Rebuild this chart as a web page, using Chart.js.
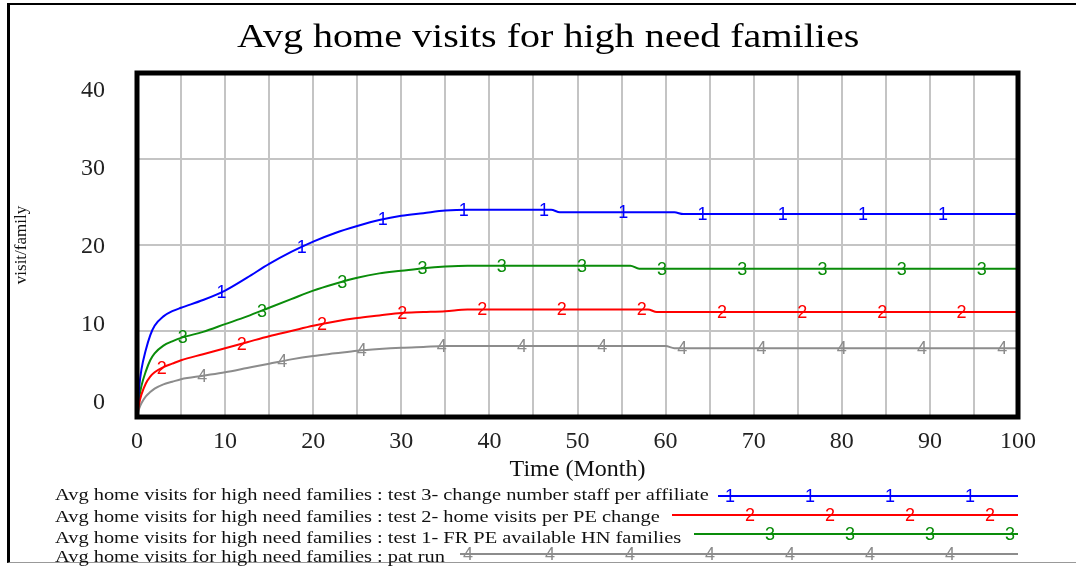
<!DOCTYPE html>
<html>
<head>
<meta charset="utf-8">
<script src="https://cdn.jsdelivr.net/npm/chart.js@4"></script>
<style>
  body { margin: 0; background: #fff; }
  #wrap { position: relative; width: 1076px; height: 566px; overflow: hidden; }
  #frame { position: absolute; left: 7px; top: 3px; width: 1069px; height: 560px;
           border-left: 3px solid #000; border-top: 2px solid #000; border-bottom: 1px solid #999; box-sizing: border-box; }
  canvas { position: absolute; left: 0; top: 0; }
  #title { position: absolute; left: 237px; top: 16px; font-family: 'Liberation Serif', serif; font-size: 33px; line-height: 40px;
           color: #000; white-space: nowrap; transform: scaleX(1.214); transform-origin: 0 0; }
  .row { position: absolute; left: 55px; font-family: 'Liberation Serif', serif; font-size: 16px; color: #111; white-space: nowrap;
         line-height: 18px; transform: scaleX(1.275); transform-origin: 0 0; }
  .sample { position: absolute; height: 0; border-top: 2px solid; }
  .sample span { position: absolute; top: -11px; font-family: 'Liberation Sans', sans-serif; font-size: 18px; line-height: 20px; transform: translateX(-50%); }
</style>
</head>
<body>
<div id="wrap">
  <div id="frame"></div>
  <canvas id="chart" width="1076" height="566"></canvas>
  <div id="title">Avg home visits for high need families</div>
  <div id="legend"></div>
</div>
<script>
const times = [0, 0.25, 0.5, 1, 1.5, 2, 3, 4, 5, 7.5, 10, 12.5, 15, 17.5, 20, 22.5, 25, 27.5, 30, 32.5, 35, 37.5, 40, 47, 48, 56, 57, 58, 59, 60, 61, 62, 100];

const test3 = [0, 3.5, 5.5, 7.8, 9.5, 10.6, 11.7, 12.3, 12.7, 13.6, 14.7, 16.2, 17.8, 19.2, 20.4, 21.4, 22.2, 22.9, 23.4, 23.7, 24.0, 24.1, 24.1, 24.1, 23.8, 23.8, 23.8, 23.8, 23.8, 23.8, 23.8, 23.6, 23.6];
const test2 = [0, 1.6, 2.6, 3.9, 4.7, 5.2, 5.8, 6.2, 6.6, 7.3, 8.0, 8.7, 9.4, 10.0, 10.6, 11.1, 11.5, 11.8, 12.1, 12.2, 12.3, 12.5, 12.5, 12.5, 12.5, 12.5, 12.5, 12.5, 12.2, 12.2, 12.2, 12.2, 12.2];
const test1 = [0, 2.2, 3.6, 5.3, 6.6, 7.4, 8.3, 8.8, 9.2, 9.9, 10.8, 11.7, 12.7, 13.7, 14.7, 15.5, 16.2, 16.7, 17.0, 17.3, 17.5, 17.6, 17.6, 17.6, 17.6, 17.6, 17.25, 17.25, 17.25, 17.25, 17.25, 17.25, 17.25];
const patRun = [0, 1.0, 1.6, 2.4, 2.9, 3.3, 3.8, 4.1, 4.4, 4.8, 5.2, 5.7, 6.2, 6.7, 7.1, 7.4, 7.7, 7.9, 8.05, 8.15, 8.25, 8.25, 8.25, 8.25, 8.25, 8.25, 8.25, 8.25, 8.25, 8.25, 8.0, 8.0, 8.0];

// where the numbered run markers sit along each line (months)
const marks1 = [9.6, 18.7, 27.9, 37.1, 46.2, 55.2, 64.2, 73.3, 82.4, 91.5];
const marks2 = [2.8, 11.9, 21.0, 30.1, 39.2, 48.2, 57.3, 66.4, 75.5, 84.6, 93.6];
const marks3 = [5.2, 14.2, 23.3, 32.4, 41.4, 50.5, 59.6, 68.7, 77.8, 86.8, 95.9];
const marks4 = [7.4, 16.5, 25.5, 34.6, 43.7, 52.8, 61.9, 70.9, 80.0, 89.1, 98.2];

const yTickLabels = [0, 10, 20, 30, 40];

const seriesNames = [
    'Avg home visits for high need families : test 3- change number staff per affiliate',
    'Avg home visits for high need families : test 2- home visits per PE change',
    'Avg home visits for high need families : test 1- FR PE available HN families',
    'Avg home visits for high need families : pat run'
];
const seriesColors = ['#0000ff', '#ff0000', '#0a8c0a', '#8c8c8c'];
const seriesValues = [test3, test2, test1, patRun];
const seriesMarks = [marks1, marks2, marks3, marks4];
const seriesTags = ['1', '2', '3', '4'];

// legend sample lines: start x, marker x positions
const legendStart = [718, 672, 694, 460];
const legendMarks = [[730, 810, 890, 970], [750, 830, 910, 990], [770, 850, 930, 1010], [468, 550, 630, 710, 790, 870, 950]];
const legendTop = [486, 508, 529, 548];
const legendLineY = [496, 515, 534, 554];

function valueAt(vals, t) {
    for (let i = 1; i < times.length; i++) {
        if (t <= times[i]) {
            const f = (t - times[i - 1]) / (times[i] - times[i - 1]);
            return vals[i - 1] + f * (vals[i] - vals[i - 1]);
        }
    }
    return vals[vals.length - 1];
}

const runMarkers = {
    id: 'runMarkers',
    afterDatasetsDraw(chart) {
        const ctx = chart.ctx;
        const xs = chart.scales.x, ys = chart.scales.y;
        ctx.save();
        ctx.font = '18px "Liberation Sans", sans-serif';
        ctx.textAlign = 'center';
        ctx.textBaseline = 'middle';
        seriesMarks.forEach(function(marks, k) {
            ctx.fillStyle = seriesColors[k];
            marks.forEach(function(t) {
                ctx.fillText(seriesTags[k], xs.getPixelForValue(t), ys.getPixelForValue(valueAt(seriesValues[k], t)) + 1);
            });
        });
        ctx.restore();
    },
    afterDraw(chart) {
        const a = chart.chartArea;
        const ctx = chart.ctx;
        ctx.save();
        ctx.strokeStyle = '#000';
        ctx.lineWidth = 5;
        ctx.strokeRect(a.left, a.top, a.right - a.left, a.bottom - a.top);
        ctx.restore();
    }
};

const serif = "'Liberation Serif', 'Times New Roman', serif";

new Chart(document.getElementById('chart').getContext('2d'), {
    type: 'line',
    data: {
        datasets: seriesValues.map(function(vals, k) {
            return {
                label: seriesNames[k],
                data: times.map(function(t, i) { return { x: t, y: vals[i] }; }),
                borderColor: seriesColors[k],
                borderWidth: 2,
                pointRadius: 0,
                cubicInterpolationMode: 'monotone',
                fill: false,
                yAxisID: 'y'
            };
        })
    },
    options: {
        responsive: false,
        animation: false,
        devicePixelRatio: 1,
        layout: { padding: { left: 0, right: 58, top: 73, bottom: 82 } },
        plugins: {
            legend: { display: false },
            tooltip: { enabled: false },
            title: { display: false }
        },
        scales: {
            x: {
                type: 'linear',
                min: 0,
                max: 100,
                afterFit: function(s) { s.height = 67; },
                ticks: {
                    stepSize: 5,
                    autoSkip: false,
                    maxRotation: 0,
                    padding: 10,
                    color: '#222',
                    font: { family: serif, size: 24 },
                    callback: function(v) { return v % 10 === 0 ? v : ''; }
                },
                grid: { color: '#c4c4c4', lineWidth: 2, drawTicks: false },
                border: { display: false },
                title: {
                    display: true,
                    text: 'Time (Month)',
                    color: '#111',
                    font: { family: serif, size: 24 },
                    padding: { top: 0, bottom: 0 }
                }
            },
            y: {
                position: 'left',
                min: 0,
                max: 40,
                afterFit: function(s) { s.width = 0; },
                ticks: { stepSize: 10, display: false },
                grid: { color: '#c4c4c4', lineWidth: 2, drawTicks: false },
                border: { display: false }
            },
            // label axis: the original tool spreads the value labels a little tighter than the grid
            yLab: {
                position: 'left',
                min: -1.86,
                max: 42.24,
                afterFit: function(s) { s.width = 137; },
                afterBuildTicks: function(s) { s.ticks = yTickLabels.map(function(v) { return { value: v }; }); },
                ticks: {
                    padding: 32,
                    color: '#222',
                    font: { family: serif, size: 24 }
                },
                grid: { display: false, drawTicks: false },
                border: { display: false },
                title: {
                    display: true,
                    text: 'visit/family',
                    color: '#111',
                    font: { family: serif, size: 17 },
                    padding: { top: 11, bottom: 0 }
                }
            }
        }
    },
    plugins: [runMarkers]
});

// legend rows at the bottom
const legend = document.getElementById('legend');
seriesNames.forEach(function(name, k) {
    const row = document.createElement('div');
    row.className = 'row';
    row.style.top = legendTop[k] + 'px';
    row.textContent = name;
    legend.appendChild(row);

    const line = document.createElement('div');
    line.className = 'sample';
    line.style.left = legendStart[k] + 'px';
    line.style.width = (1018 - legendStart[k]) + 'px';
    line.style.top = (legendLineY[k] - 1) + 'px';
    line.style.borderColor = seriesColors[k];
    legendMarks[k].forEach(function(mx) {
        const s = document.createElement('span');
        s.style.left = (mx - legendStart[k]) + 'px';
        s.style.color = seriesColors[k];
        s.textContent = seriesTags[k];
        line.appendChild(s);
    });
    legend.appendChild(line);
});
</script>
</body>
</html>
